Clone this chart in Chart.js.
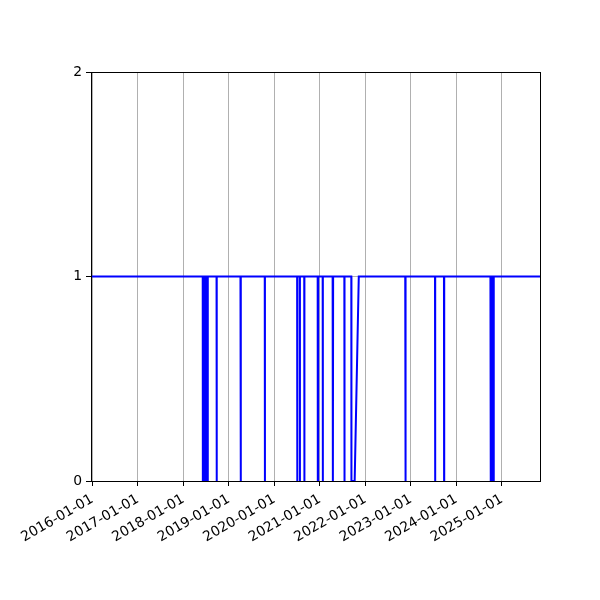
<!DOCTYPE html>
<html>
<head>
<meta charset="utf-8">
<script src="https://cdn.jsdelivr.net/npm/chart.js@4/dist/chart.umd.min.js"></script>
<style>
    body { margin: 0; background: #ffffff; }
    #box { width: 600px; height: 600px; }
</style>
</head>
<body>
<div id="box"><canvas id="statusChart"></canvas></div>
<script>
// ----------------------------
// Data (change points of the daily series)
// ----------------------------
const pointDates = [
    "2015-12-21",
    "2018-06-05", "2018-06-06", "2018-06-09", "2018-06-10",
    "2018-06-19", "2018-06-20", "2018-06-22", "2018-06-23",
    "2018-07-01", "2018-07-02", "2018-07-04", "2018-07-05",
    "2018-07-13", "2018-07-14", "2018-07-16", "2018-07-17",
    "2018-09-24", "2018-09-25", "2018-09-26",
    "2019-04-04", "2019-04-05", "2019-04-07", "2019-04-08",
    "2019-10-16", "2019-10-17", "2019-10-18",
    "2020-07-02", "2020-07-03", "2020-07-04",
    "2020-07-23", "2020-07-24", "2020-07-25",
    "2020-08-28", "2020-08-29", "2020-08-30",
    "2020-12-14", "2020-12-15", "2020-12-17", "2020-12-18",
    "2021-01-23", "2021-01-24", "2021-01-25",
    "2021-04-13", "2021-04-14", "2021-04-16", "2021-04-17",
    "2021-07-16", "2021-07-17", "2021-07-18",
    "2021-09-10", "2021-09-11", "2021-10-07", "2021-11-09",
    "2022-11-17", "2022-11-18", "2022-11-20", "2022-11-21",
    "2023-07-14", "2023-07-15", "2023-07-16",
    "2023-09-24", "2023-09-25", "2023-09-26",
    "2024-10-01", "2024-10-02", "2024-10-04", "2024-10-05",
    "2024-10-13", "2024-10-14", "2024-10-15",
    "2024-10-25", "2024-10-26", "2024-10-28", "2024-10-29",
    "2025-11-03"
];

const pointValues = [
    1,
    1, 0, 0, 1,
    1, 0, 0, 1,
    1, 0, 0, 1,
    1, 0, 0, 1,
    1, 0, 1,
    1, 0, 0, 1,
    1, 0, 1,
    1, 0, 1,
    1, 0, 1,
    1, 0, 1,
    1, 0, 0, 1,
    1, 0, 1,
    1, 0, 0, 1,
    1, 0, 1,
    1, 0, 0, 1,
    1, 0, 0, 1,
    1, 0, 1,
    1, 0, 1,
    1, 0, 0, 1,
    1, 0, 1,
    1, 0, 0, 1,
    1
];

const tickLabels = [
    "2016-01-01", "2017-01-01", "2018-01-01", "2019-01-01", "2020-01-01",
    "2021-01-01", "2022-01-01", "2023-01-01", "2024-01-01", "2025-01-01"
];

const xStart = "2015-12-21";
const xEnd = "2025-11-03";

// ----------------------------
// Build the points
// ----------------------------
const points = pointDates.map((d, i) => ({ x: Date.parse(d), y: pointValues[i] }));
const tickValues = tickLabels.map(d => Date.parse(d));

// frame on all four sides, like matplotlib spines
const frame = {
    id: "frame",
    afterDraw(chart) {
        const a = chart.chartArea;
        const c = chart.ctx;
        c.save();
        c.strokeStyle = "#000000";
        c.lineWidth = 1;
        c.strokeRect(Math.round(a.left) + 0.5, Math.round(a.top) + 0.5,
            Math.round(a.right - a.left), Math.round(a.bottom - a.top));
        c.restore();
    }
};

const font = { family: "'DejaVu Sans'", size: 13.9 };

new Chart(document.getElementById("statusChart"), {
    type: "line",
    data: {
        datasets: [{
            data: points,
            borderColor: "#0000ff",
            borderWidth: 2,
            pointRadius: 0,
            tension: 0,
            fill: false
        }]
    },
    options: {
        responsive: true,
        maintainAspectRatio: false,
        animation: false,
        layout: { padding: { left: 0, top: 72, right: 60, bottom: 0 } },
        plugins: {
            legend: { display: false },
            tooltip: { enabled: false }
        },
        scales: {
            x: {
                type: "linear",
                min: Date.parse(xStart),
                max: Date.parse(xEnd),
                afterBuildTicks(scale) {
                    scale.ticks = tickValues.map(v => ({ value: v }));
                },
                afterFit(scale) { scale.height = 119; },
                ticks: {
                    callback: (value, index) => tickLabels[index],
                    minRotation: 30,
                    maxRotation: 30,
                    autoSkip: false,
                    color: "#000000",
                    font: font,
                    padding: 5
                },
                grid: {
                    color: "#b0b0b0",
                    lineWidth: 1,
                    tickColor: "#000000",
                    tickLength: 5,
                    tickWidth: 1
                },
                border: { color: "#000000", width: 1 }
            },
            y: {
                min: 0,
                max: 2,
                afterFit(scale) { scale.width = 91; },
                ticks: {
                    stepSize: 1,
                    color: "#000000",
                    font: font,
                    padding: 4
                },
                grid: {
                    color: "#b0b0b0",
                    lineWidth: 1,
                    tickColor: "#000000",
                    tickLength: 5,
                    tickWidth: 1
                },
                border: { color: "#000000", width: 1 }
            }
        }
    },
    plugins: [frame]
});
</script>
</body>
</html>
